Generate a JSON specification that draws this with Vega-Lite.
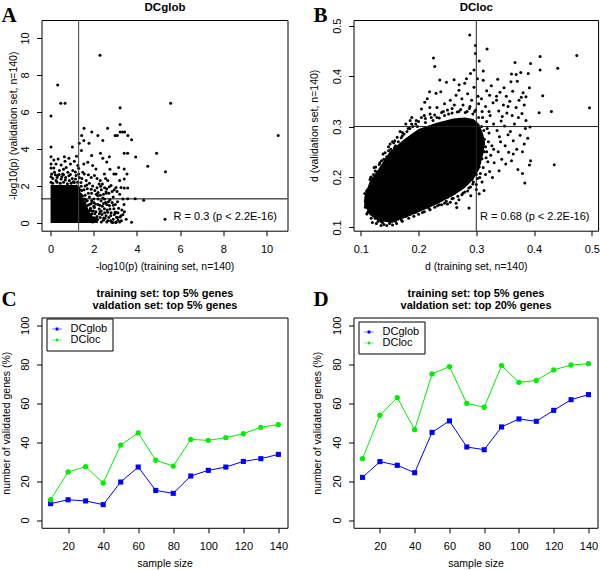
{
"$schema": "https://vega.github.io/schema/vega-lite/v6.json",
"padding": {"left": 0.5, "top": 0, "right": 0, "bottom": 0},
"background": "white",
"columns": 2,
"bounds": "flush",
"spacing": {"row": 86.5, "column": 66},
"resolve": {"scale": {"color": "independent", "shape": "independent"}, "legend": {"color": "independent", "shape": "independent"}},
"config": {
  "font": "Liberation Sans",
  "view": {"stroke": "black", "strokeWidth": 1},
  "axis": {"domain": false, "grid": false, "tickColor": "black", "tickSize": 5, "labelFont": "Liberation Sans", "labelFontSize": 11, "labelColor": "black", "titleFont": "Liberation Sans", "titleFontSize": 10.5, "titleFontWeight": "normal", "titleColor": "black"},
  "axisX": {"labelPadding": 8, "titlePadding": 7},
  "axisY": {"labelAngle": 270, "labelAlign": "center", "labelBaseline": "bottom", "labelPadding": 6},
  "title": {"font": "Liberation Serif", "fontSize": 21, "fontWeight": "bold", "anchor": "start", "frame": "group", "dx": -40, "baseline": "alphabetic", "offset": 0, "color": "black"},
  "legend": {"orient": "none", "legendX": 5, "legendY": 1, "title": null, "strokeColor": "black", "fillColor": "white", "padding": 5, "labelFontSize": 11, "labelOffset": 8, "symbolStrokeWidth": 0, "rowPadding": -6, "labelColor": "black"}
},
"concat": [
{
  "width": 246, "height": 210.7,
  "title": {"text": "A", "dy": 29.4},
  "resolve": {"axis": {"x": "independent"}},
  "layer": [
    {"data": {"values": [{"x":0,"lo":0,"hi":2.05},{"x":1.2,"lo":0,"hi":2.05},{"x":1.35,"lo":0,"hi":1.8},{"x":1.5,"lo":0,"hi":1.3},{"x":1.65,"lo":0,"hi":1.0},{"x":1.8,"lo":0,"hi":0.6},{"x":2.0,"lo":0,"hi":0.3},{"x":2.2,"lo":0,"hi":0.02}]},
     "mark": {"type": "area", "color": "black", "opacity": 1},
     "encoding": {
       "x": {"field": "x", "type": "quantitative", "scale": {"domain": [-0.42, 10.97], "nice": false, "zero": false}, "axis": null},
       "y": {"field": "hi", "type": "quantitative", "scale": {"domain": [-0.42, 10.97], "nice": false, "zero": false}, "axis": {"values": [0,2,4,6,8,10], "title": "-log10(p) (validation set, n=140)", "titlePadding": 0.75}},
       "y2": {"field": "lo"}}},
    {"data": {"values": [
      {"x":2.29,"y":9.06},{"x":0.33,"y":7.46},{"x":0.47,"y":6.47},{"x":0.67,"y":6.47},{"x":0.02,"y":5.78},{"x":3.22,"y":6.23},{"x":5.56,"y":6.47},{"x":3.22,"y":5.32},{"x":1.55,"y":5.12},{"x":2.64,"y":5.12},
      {"x":1.44,"y":4.72},{"x":1.91,"y":4.92},{"x":2.19,"y":4.72},{"x":2.99,"y":4.72},{"x":3.09,"y":4.72},{"x":3.22,"y":4.92},{"x":3.33,"y":4.92},{"x":3.43,"y":4.92},{"x":3.58,"y":4.72},{"x":3.75,"y":4.49},
      {"x":10.54,"y":4.72},{"x":1.33,"y":4.31},{"x":1.43,"y":3.91},{"x":1.78,"y":4.31},{"x":1.01,"y":4.11},{"x":0.02,"y":4.11},{"x":2.31,"y":3.77},{"x":3.41,"y":3.77},{"x":3.57,"y":3.77},{"x":3.94,"y":3.57},
      {"x":4.91,"y":3.77},{"x":4.5,"y":3.06},{"x":5.32,"y":2.77},{"x":5.3,"y":0.2},{"x":3.75,"y":0.04},{"x":4.31,"y":1.22},{"x":3.92,"y":1.31},{"x":3.57,"y":1.31},{"x":3.57,"y":1.89},{"x":3.41,"y":1.89},
      {"x":3.41,"y":2.38},{"x":3.41,"y":2.92},{"x":2.42,"y":4.45},{"x":1.54,"y":4.45},{"x":2.72,"y":3.58},{"x":2.42,"y":3.49},{"x":0.02,"y":3.58},{"x":0.02,"y":3.19},{"x":0.02,"y":2.97},{"x":0.15,"y":2.97},
      {"x":0.25,"y":3.19},{"x":0.64,"y":3.58},{"x":0.67,"y":3.33},{"x":0.49,"y":3.13},{"x":0.92,"y":3.19},{"x":1.1,"y":3.33},{"x":1.26,"y":3.1},{"x":1.54,"y":3.19},{"x":1.72,"y":3.28},{"x":1.95,"y":3.1},
      {"x":2.1,"y":2.92},{"x":2.49,"y":2.65},{"x":2.3,"y":2.29},{"x":2.93,"y":2.65},{"x":3.03,"y":2.65},{"x":3.54,"y":2.65},{"x":3.03,"y":1.92},{"x":3.26,"y":1.92},{"x":2.8,"y":2.02},{"x":2.57,"y":1.69},
      {"x":2.65,"y":2.29},{"x":1.88,"y":2.46},{"x":2.03,"y":2.56},{"x":1.56,"y":2.65},{"x":3.03,"y":0.03},{"x":2.88,"y":0.03},{"x":3.26,"y":0.39},{"x":3.03,"y":0.57},{"x":2.93,"y":0.76},{"x":2.72,"y":0.94},
      {"x":2.57,"y":0.39},{"x":2.46,"y":0.27},{"x":2.26,"y":0.49},{"x":2.34,"y":1.2},{"x":2.18,"y":1.48},{"x":2.49,"y":0.76},{"x":2.03,"y":0.84},{"x":1.88,"y":0.66},{"x":1.72,"y":0.3},{"x":2.1,"y":0.22},
      {"x":1.95,"y":0.12},{"x":2.65,"y":0.12},{"x":0.18,"y":2.74},{"x":0.41,"y":2.83},{"x":0.56,"y":2.65},{"x":0.8,"y":2.74},{"x":1.03,"y":2.83},{"x":1.18,"y":2.56},{"x":1.33,"y":2.46},{"x":1.49,"y":2.74},
      {"x":0.49,"y":2.38},{"x":0.25,"y":2.29},{"x":0.87,"y":2.29},{"x":1.1,"y":2.19},{"x":1.41,"y":2.19},{"x":0.72,"y":3.0},{"x":0.33,"y":2.56},{"x":0.02,"y":2.5},{"x":0.02,"y":2.2},{"x":0.1,"y":2.4},
      {"x":0.6,"y":2.2},{"x":1.0,"y":2.4},{"x":1.25,"y":2.2},{"x":1.2,"y":2.0},{"x":1.35,"y":1.8},{"x":1.3,"y":1.9},{"x":1.45,"y":1.75},{"x":1.6,"y":1.5},{"x":1.7,"y":1.2},{"x":1.8,"y":1.0},
      {"x":1.55,"y":1.3},{"x":1.65,"y":0.9},{"x":1.75,"y":0.6},{"x":1.85,"y":0.4},{"x":2.0,"y":0.9},{"x":2.2,"y":1.0},{"x":2.1,"y":0.6},{"x":2.3,"y":0.3},{"x":2.4,"y":0.9},{"x":2.2,"y":1.3},
      {"x":1.9,"y":1.6},{"x":2.05,"y":1.75},{"x":1.7,"y":1.85},{"x":2.5,"y":0.55},{"x":2.7,"y":0.3},{"x":2.8,"y":0.55},{"x":2.6,"y":1.0},{"x":2.9,"y":0.2},{"x":3.1,"y":0.3},{"x":2.75,"y":1.25},
      {"x":2.45,"y":1.55},{"x":1.95,"y":0.05},{"x":2.35,"y":0.05},{"x":2.6,"y":0.05},{"x":3.2,"y":0.05},{"x":2.0,"y":1.3},{"x":1.9,"y":1.2},{"x":1.6,"y":1.1},{"x":1.5,"y":0.8},{"x":1.55,"y":0.4},
      {"x":1.65,"y":0.15},{"x":1.8,"y":1.4},{"x":2.15,"y":1.9},{"x":2.5,"y":1.3},{"x":1.95,"y":2.0},{"x":1.6,"y":2.0},{"x":2.9,"y":1.4},{"x":3.0,"y":1.0},{"x":2.7,"y":1.6},{"x":2.25,"y":2.1},
      {"x":1.8,"y":2.15},{"x":3.2,"y":1.55},{"x":3.4,"y":1.0},{"x":3.3,"y":0.7},{"x":2.95,"y":1.8},{"x":2.64,"y":0.58},{"x":2.79,"y":0.4},{"x":2.99,"y":0.58},{"x":3.05,"y":0.31},{"x":3.22,"y":0.32},
      {"x":2.84,"y":0.04},{"x":3.02,"y":0.04},{"x":0.1,"y":2.15},{"x":0.3,"y":2.45},{"x":0.45,"y":2.15},{"x":0.7,"y":2.45},{"x":0.95,"y":2.15},{"x":1.15,"y":2.75},{"x":0.85,"y":2.55},{"x":0.6,"y":2.9},
      {"x":0.4,"y":2.62},{"x":1.3,"y":2.65},{"x":1.45,"y":2.4},{"x":1.65,"y":2.3},{"x":1.75,"y":2.6},{"x":2.15,"y":2.4},{"x":2.4,"y":2.1},{"x":2.55,"y":2.4},{"x":2.35,"y":1.8},{"x":2.6,"y":1.85},
      {"x":2.85,"y":1.7},{"x":2.3,"y":1.5},{"x":2.55,"y":1.1},{"x":2.35,"y":0.65},{"x":2.15,"y":0.35},{"x":2.45,"y":0.15},{"x":2.75,"y":0.75},{"x":2.9,"y":0.95},{"x":3.15,"y":0.8},{"x":3.35,"y":0.45},
      {"x":3.5,"y":0.2},{"x":3.35,"y":1.3},{"x":3.1,"y":1.15},{"x":2.0,"y":1.1},{"x":1.75,"y":1.6},{"x":1.85,"y":0.8},{"x":2.05,"y":0.5},{"x":2.25,"y":0.75},{"x":2.2,"y":1.65},{"x":1.55,"y":1.8},
      {"x":0.85,"y":3.5},{"x":0.35,"y":3.45},{"x":1.2,"y":3.6},{"x":1.9,"y":3.65},{"x":2.6,"y":3.3},{"x":3.15,"y":3.0},{"x":2.75,"y":2.9},{"x":3.2,"y":2.3},{"x":1.3,"y":2.95},{"x":0.15,"y":3.4},
      {"x":1.4,"y":1.55},{"x":1.48,"y":1.45},{"x":1.62,"y":1.25},{"x":1.72,"y":0.95},{"x":1.82,"y":0.72},{"x":1.92,"y":0.5},{"x":2.02,"y":0.28},{"x":2.12,"y":0.08},{"x":1.98,"y":0.65},{"x":2.08,"y":1.02},
      {"x":2.28,"y":0.95},{"x":2.38,"y":0.45},{"x":2.52,"y":0.25},{"x":2.62,"y":0.7},{"x":2.68,"y":1.15},{"x":2.85,"y":1.1},{"x":2.95,"y":0.45},{"x":3.12,"y":0.55},{"x":3.28,"y":0.12},{"x":3.42,"y":0.6},
      {"x":2.42,"y":1.35},{"x":2.58,"y":1.6},{"x":2.12,"y":1.55},{"x":1.88,"y":1.82},{"x":2.32,"y":1.98},{"x":2.72,"y":1.95},{"x":3.08,"y":1.7},{"x":1.42,"y":1.98},{"x":1.68,"y":2.05},{"x":2.5,"y":1.9},
      {"x":1.5,"y":0.15},{"x":1.58,"y":0.62},{"x":1.68,"y":0.45},{"x":1.78,"y":0.22},{"x":1.88,"y":1.05},{"x":2.18,"y":0.18},{"x":2.3,"y":0.6},{"x":2.45,"y":1.05},{"x":2.78,"y":0.12},{"x":3.12,"y":0.15},
      {"x":0.05,"y":2.65},{"x":0.22,"y":2.6},{"x":0.52,"y":2.5},{"x":0.68,"y":2.32},{"x":0.78,"y":2.12},{"x":1.05,"y":2.22},{"x":1.15,"y":2.38},{"x":0.92,"y":2.62},{"x":0.3,"y":2.2},{"x":0.6,"y":2.6}
     ]},
     "mark": {"type": "circle", "color": "black", "size": 9, "opacity": 1},
     "encoding": {
       "x": {"field": "x", "type": "quantitative", "scale": {"domain": [-0.42, 10.97], "nice": false, "zero": false}, "axis": {"orient": "bottom", "values": [0,2,4,6,8,10], "title": "-log10(p) (training set, n=140)", "labelPadding": 8, "titlePadding": 7, "labelBaseline": "top"}},
       "y": {"field": "y", "type": "quantitative", "scale": {"domain": [-0.42, 10.97], "nice": false, "zero": false}, "axis": {"values": [0,2,4,6,8,10], "title": "-log10(p) (validation set, n=140)", "titlePadding": 0.75}}}},
    {"data": {"values": [{"v": 1.301}]},
     "mark": {"type": "rule", "color": "#444444", "strokeWidth": 1},
     "encoding": {"x": {"field": "v", "type": "quantitative", "scale": {"domain": [-0.42, 10.97], "nice": false, "zero": false}, "axis": {"orient": "top", "title": "DCglob", "labels": false, "ticks": false, "domain": false, "titleFontWeight": "bold", "titleFontSize": 11.5, "titlePadding": 8}}}},
    {"data": {"values": [{"v": 1.301}]},
     "mark": {"type": "rule", "color": "black", "strokeWidth": 1},
     "encoding": {"y": {"field": "v", "type": "quantitative", "scale": {"domain": [-0.42, 10.97], "nice": false, "zero": false}, "axis": {"values": [0,2,4,6,8,10], "title": "-log10(p) (validation set, n=140)", "titlePadding": 0.75}}}},
    {"data": {"values": [{"label": "R = 0.3 (p < 2.2E-16)"}]},
     "mark": {"type": "text", "align": "right", "baseline": "middle", "fontSize": 11, "color": "black"},
     "encoding": {"x": {"datum": 10.48, "type": "quantitative", "axis": null}, "y": {"datum": 0.34, "type": "quantitative", "axis": {"values": [0,2,4,6,8,10], "title": "-log10(p) (validation set, n=140)", "titlePadding": 0.75}}, "text": {"field": "label"}}}
  ]
},
{
  "width": 244.6, "height": 210.7,
  "title": {"text": "B", "dy": 29.4},
  "resolve": {"axis": {"x": "independent"}},
  "layer": [
    {"data": {"values": [{"x":0.106,"lo":0.145,"hi":0.16},{"x":0.115,"lo":0.125,"hi":0.19},{"x":0.13,"lo":0.113,"hi":0.215},{"x":0.15,"lo":0.11,"hi":0.25},{"x":0.175,"lo":0.118,"hi":0.275},{"x":0.2,"lo":0.13,"hi":0.295},{"x":0.23,"lo":0.145,"hi":0.307},{"x":0.26,"lo":0.163,"hi":0.316},{"x":0.28,"lo":0.178,"hi":0.318},{"x":0.295,"lo":0.195,"hi":0.315},{"x":0.305,"lo":0.215,"hi":0.305},{"x":0.312,"lo":0.245,"hi":0.285},{"x":0.315,"lo":0.265,"hi":0.27}]},
     "mark": {"type": "area", "color": "black", "opacity": 1},
     "encoding": {
       "x": {"field": "x", "type": "quantitative", "scale": {"domain": [0.0874, 0.5109], "nice": false, "zero": false}, "axis": null},
       "y": {"field": "hi", "type": "quantitative", "scale": {"domain": [0.0935, 0.5113], "nice": false, "zero": false}, "axis": {"values": [0.1,0.2,0.3,0.4,0.5], "title": "d (validation set, n=140)", "titlePadding": 11.75}},
       "y2": {"field": "lo"}}},
    {"data": {"values": [
      {"x":0.3187,"y":0.454},{"x":0.2986,"y":0.4605},{"x":0.2986,"y":0.445},{"x":0.296,"y":0.412},{"x":0.367,"y":0.427},{"x":0.394,"y":0.425},{"x":0.4105,"y":0.4387},{"x":0.4105,"y":0.412},{"x":0.441,"y":0.4155},{"x":0.474,"y":0.4407},
      {"x":0.496,"y":0.3375},{"x":0.43,"y":0.33},{"x":0.4088,"y":0.3276},{"x":0.415,"y":0.361},{"x":0.39,"y":0.405},{"x":0.377,"y":0.407},{"x":0.369,"y":0.403},{"x":0.361,"y":0.404},{"x":0.392,"y":0.377},{"x":0.386,"y":0.359},
      {"x":0.378,"y":0.358},{"x":0.386,"y":0.312},{"x":0.393,"y":0.2992},{"x":0.389,"y":0.2766},{"x":0.383,"y":0.2655},{"x":0.394,"y":0.232},{"x":0.392,"y":0.224},{"x":0.435,"y":0.2245},{"x":0.38,"y":0.207},{"x":0.384,"y":0.188},
      {"x":0.364,"y":0.2458},{"x":0.351,"y":0.2258},{"x":0.3395,"y":0.2125},{"x":0.328,"y":0.199},{"x":0.3135,"y":0.1734},{"x":0.305,"y":0.1668},{"x":0.2905,"y":0.163},{"x":0.2887,"y":0.4817},{"x":0.2259,"y":0.436},{"x":0.2281,"y":0.419},
      {"x":0.2368,"y":0.3925},{"x":0.2484,"y":0.3877},{"x":0.2616,"y":0.393},{"x":0.2703,"y":0.383},{"x":0.28,"y":0.3857},{"x":0.219,"y":0.369},{"x":0.2304,"y":0.366},{"x":0.2385,"y":0.369},{"x":0.2108,"y":0.348},{"x":0.2195,"y":0.338},
      {"x":0.1883,"y":0.318},{"x":0.1854,"y":0.312},{"x":0.1589,"y":0.272},{"x":0.1507,"y":0.2655},{"x":0.1386,"y":0.2456},{"x":0.1231,"y":0.219},{"x":0.1173,"y":0.199},{"x":0.107,"y":0.1675},{"x":0.1087,"y":0.143},{"x":0.1104,"y":0.1265},
      {"x":0.12,"y":0.11},{"x":0.1376,"y":0.11},{"x":0.1507,"y":0.11},{"x":0.168,"y":0.1198},{"x":0.1866,"y":0.1265},{"x":0.2068,"y":0.1298},{"x":0.2328,"y":0.143},{"x":0.2501,"y":0.1464},{"x":0.2662,"y":0.1397},{"x":0.2875,"y":0.1385},
      {"x":0.312,"y":0.392},{"x":0.318,"y":0.371},{"x":0.309,"y":0.355},{"x":0.316,"y":0.34},{"x":0.311,"y":0.318},{"x":0.319,"y":0.296},{"x":0.314,"y":0.275},{"x":0.308,"y":0.258},{"x":0.317,"y":0.238},{"x":0.312,"y":0.219},
      {"x":0.306,"y":0.199},{"x":0.326,"y":0.381},{"x":0.323,"y":0.362},{"x":0.329,"y":0.347},{"x":0.324,"y":0.322},{"x":0.33,"y":0.305},{"x":0.322,"y":0.287},{"x":0.327,"y":0.262},{"x":0.325,"y":0.243},{"x":0.331,"y":0.228},
      {"x":0.323,"y":0.211},{"x":0.337,"y":0.394},{"x":0.341,"y":0.368},{"x":0.335,"y":0.352},{"x":0.339,"y":0.331},{"x":0.343,"y":0.311},{"x":0.336,"y":0.292},{"x":0.342,"y":0.27},{"x":0.338,"y":0.25},{"x":0.344,"y":0.235},
      {"x":0.348,"y":0.377},{"x":0.352,"y":0.36},{"x":0.347,"y":0.343},{"x":0.353,"y":0.327},{"x":0.349,"y":0.301},{"x":0.355,"y":0.284},{"x":0.35,"y":0.262},{"x":0.356,"y":0.249},{"x":0.36,"y":0.389},{"x":0.363,"y":0.37},
      {"x":0.358,"y":0.35},{"x":0.362,"y":0.322},{"x":0.366,"y":0.305},{"x":0.359,"y":0.29},{"x":0.364,"y":0.272},{"x":0.361,"y":0.232},{"x":0.371,"y":0.39},{"x":0.374,"y":0.352},{"x":0.369,"y":0.338},{"x":0.373,"y":0.318},
      {"x":0.376,"y":0.283},{"x":0.37,"y":0.255},{"x":0.372,"y":0.215},{"x":0.381,"y":0.367},{"x":0.383,"y":0.343},{"x":0.379,"y":0.326},{"x":0.385,"y":0.296},{"x":0.38,"y":0.25},{"x":0.285,"y":0.365},{"x":0.292,"y":0.352},
      {"x":0.296,"y":0.378},{"x":0.302,"y":0.395},{"x":0.289,"y":0.34},{"x":0.275,"y":0.355},{"x":0.265,"y":0.362},{"x":0.255,"y":0.352},{"x":0.262,"y":0.343},{"x":0.245,"y":0.345},{"x":0.25,"y":0.333},{"x":0.24,"y":0.328},
      {"x":0.232,"y":0.338},{"x":0.22,"y":0.325},{"x":0.21,"y":0.322},{"x":0.2,"y":0.31},{"x":0.195,"y":0.305},{"x":0.205,"y":0.335},{"x":0.215,"y":0.355},{"x":0.27,"y":0.372},{"x":0.283,"y":0.395},{"x":0.29,"y":0.405},
      {"x":0.305,"y":0.43},{"x":0.312,"y":0.41},{"x":0.29,"y":0.18},{"x":0.3,"y":0.185},{"x":0.295,"y":0.19},{"x":0.285,"y":0.172},{"x":0.275,"y":0.165},{"x":0.27,"y":0.155},{"x":0.26,"y":0.158},{"x":0.255,"y":0.15},
      {"x":0.245,"y":0.148},{"x":0.24,"y":0.145},{"x":0.28,"y":0.17},{"x":0.31,"y":0.19},{"x":0.3,"y":0.175},{"x":0.265,"y":0.148},{"x":0.22,"y":0.135},{"x":0.21,"y":0.14},{"x":0.195,"y":0.13},{"x":0.18,"y":0.125},
      {"x":0.17,"y":0.115},{"x":0.16,"y":0.112},{"x":0.15,"y":0.108},{"x":0.14,"y":0.106},{"x":0.13,"y":0.112},{"x":0.125,"y":0.118},{"x":0.115,"y":0.132},{"x":0.11,"y":0.16},{"x":0.112,"y":0.175},{"x":0.118,"y":0.185},
      {"x":0.122,"y":0.205},{"x":0.128,"y":0.21},{"x":0.132,"y":0.225},{"x":0.14,"y":0.235},{"x":0.145,"y":0.24},{"x":0.152,"y":0.255},{"x":0.16,"y":0.262},{"x":0.165,"y":0.27},{"x":0.17,"y":0.278},{"x":0.175,"y":0.285},
      {"x":0.18,"y":0.29},{"x":0.19,"y":0.3},{"x":0.168,"y":0.29},{"x":0.178,"y":0.305},{"x":0.155,"y":0.27},
      {"x":0.318,"y":0.25},{"x":0.32,"y":0.23},{"x":0.316,"y":0.205},{"x":0.321,"y":0.27},{"x":0.318,"y":0.31},{"x":0.322,"y":0.33},{"x":0.31,"y":0.33},{"x":0.304,"y":0.345},{"x":0.297,"y":0.33},{"x":0.284,"y":0.33},
      {"x":0.27,"y":0.33},{"x":0.258,"y":0.327},{"x":0.245,"y":0.322},{"x":0.232,"y":0.318},{"x":0.225,"y":0.312},{"x":0.212,"y":0.308},{"x":0.303,"y":0.36},{"x":0.277,"y":0.343},{"x":0.305,"y":0.22},{"x":0.3,"y":0.205},
      {"x":0.292,"y":0.195},{"x":0.282,"y":0.185},{"x":0.272,"y":0.176},{"x":0.262,"y":0.168},{"x":0.25,"y":0.16},{"x":0.238,"y":0.155},{"x":0.226,"y":0.148},{"x":0.214,"y":0.143},{"x":0.202,"y":0.137},{"x":0.19,"y":0.133},
      {"x":0.178,"y":0.122},{"x":0.164,"y":0.116},{"x":0.155,"y":0.112},{"x":0.135,"y":0.112},{"x":0.12,"y":0.125},{"x":0.112,"y":0.14},{"x":0.108,"y":0.152},{"x":0.116,"y":0.195},{"x":0.126,"y":0.22},{"x":0.136,"y":0.232},
      {"x":0.148,"y":0.252},{"x":0.158,"y":0.258},{"x":0.172,"y":0.282},{"x":0.185,"y":0.296},{"x":0.198,"y":0.3},{"x":0.33,"y":0.255},{"x":0.34,"y":0.28},{"x":0.345,"y":0.32},{"x":0.355,"y":0.34},{"x":0.335,"y":0.36},
      {"x":0.11,"y":0.172},{"x":0.118,"y":0.2},{"x":0.125,"y":0.212},{"x":0.133,"y":0.228},{"x":0.142,"y":0.248},{"x":0.148,"y":0.26},{"x":0.157,"y":0.268},{"x":0.163,"y":0.279},{"x":0.172,"y":0.288},{"x":0.182,"y":0.296},
      {"x":0.188,"y":0.305},{"x":0.196,"y":0.312},{"x":0.205,"y":0.318},{"x":0.212,"y":0.316},{"x":0.222,"y":0.318},{"x":0.228,"y":0.323},{"x":0.236,"y":0.317},{"x":0.243,"y":0.33},{"x":0.252,"y":0.325},{"x":0.258,"y":0.336},
      {"x":0.267,"y":0.329},{"x":0.273,"y":0.334},{"x":0.281,"y":0.328},{"x":0.288,"y":0.336},{"x":0.294,"y":0.325},{"x":0.299,"y":0.333},{"x":0.304,"y":0.318},{"x":0.309,"y":0.3},{"x":0.313,"y":0.292},{"x":0.316,"y":0.26},
      {"x":0.314,"y":0.25},{"x":0.31,"y":0.236},{"x":0.306,"y":0.228},{"x":0.108,"y":0.14},{"x":0.112,"y":0.13},{"x":0.118,"y":0.118},{"x":0.127,"y":0.108},{"x":0.135,"y":0.104},{"x":0.145,"y":0.104},{"x":0.155,"y":0.105},
      {"x":0.162,"y":0.108},{"x":0.172,"y":0.112},{"x":0.183,"y":0.118},{"x":0.192,"y":0.122},{"x":0.2,"y":0.126},{"x":0.21,"y":0.131},{"x":0.218,"y":0.138},{"x":0.228,"y":0.14},{"x":0.236,"y":0.145},{"x":0.248,"y":0.152},
      {"x":0.258,"y":0.157},{"x":0.268,"y":0.162},{"x":0.277,"y":0.168},{"x":0.287,"y":0.178},{"x":0.294,"y":0.186},{"x":0.302,"y":0.197},{"x":0.307,"y":0.207}
     ]},
     "mark": {"type": "circle", "color": "black", "size": 9, "opacity": 1},
     "encoding": {
       "x": {"field": "x", "type": "quantitative", "scale": {"domain": [0.0874, 0.5109], "nice": false, "zero": false}, "axis": {"orient": "bottom", "values": [0.1,0.2,0.3,0.4,0.5], "title": "d (training set, n=140)", "labelPadding": 8, "titlePadding": 7, "labelBaseline": "top"}},
       "y": {"field": "y", "type": "quantitative", "scale": {"domain": [0.0935, 0.5113], "nice": false, "zero": false}, "axis": {"values": [0.1,0.2,0.3,0.4,0.5], "title": "d (validation set, n=140)", "titlePadding": 11.75}}}},
    {"data": {"values": [{"v": 0.3}]},
     "mark": {"type": "rule", "color": "#222222", "strokeWidth": 1},
     "encoding": {"x": {"field": "v", "type": "quantitative", "scale": {"domain": [0.0874, 0.5109], "nice": false, "zero": false}, "axis": {"orient": "top", "title": "DCloc", "labels": false, "ticks": false, "domain": false, "titleFontWeight": "bold", "titleFontSize": 11.5, "titlePadding": 8}}}},
    {"data": {"values": [{"v": 0.3}]},
     "mark": {"type": "rule", "color": "#222222", "strokeWidth": 1},
     "encoding": {"y": {"field": "v", "type": "quantitative", "scale": {"domain": [0.0935, 0.5113], "nice": false, "zero": false}, "axis": {"values": [0.1,0.2,0.3,0.4,0.5], "title": "d (validation set, n=140)", "titlePadding": 11.75}}}},
    {"data": {"values": [{"label": "R = 0.68 (p < 2.2E-16)"}]},
     "mark": {"type": "text", "align": "right", "baseline": "middle", "fontSize": 11, "color": "black"},
     "encoding": {"x": {"datum": 0.496, "type": "quantitative", "axis": null}, "y": {"datum": 0.1212, "type": "quantitative", "axis": {"values": [0.1,0.2,0.3,0.4,0.5], "title": "d (validation set, n=140)", "titlePadding": 11.75}}, "text": {"field": "label"}}}
  ]
},
{
  "width": 246, "height": 210.3,
  "title": {"text": "C", "dy": 26.5},
  "data": {"values": [
    {"n":10,"method":"DCglob","pct":8.4},{"n":20,"method":"DCglob","pct":10.4},{"n":30,"method":"DCglob","pct":9.8},{"n":40,"method":"DCglob","pct":7.9},{"n":50,"method":"DCglob","pct":19.5},{"n":60,"method":"DCglob","pct":27.2},{"n":70,"method":"DCglob","pct":15.2},{"n":80,"method":"DCglob","pct":13.7},{"n":90,"method":"DCglob","pct":22.6},{"n":100,"method":"DCglob","pct":25.5},{"n":110,"method":"DCglob","pct":27.2},{"n":120,"method":"DCglob","pct":30.1},{"n":130,"method":"DCglob","pct":31.5},{"n":140,"method":"DCglob","pct":33.7},
    {"n":10,"method":"DCloc","pct":10.4},{"n":20,"method":"DCloc","pct":24.7},{"n":30,"method":"DCloc","pct":27.4},{"n":40,"method":"DCloc","pct":19.0},{"n":50,"method":"DCloc","pct":38.5},{"n":60,"method":"DCloc","pct":44.7},{"n":70,"method":"DCloc","pct":30.7},{"n":80,"method":"DCloc","pct":27.7},{"n":90,"method":"DCloc","pct":41.4},{"n":100,"method":"DCloc","pct":40.9},{"n":110,"method":"DCloc","pct":42.3},{"n":120,"method":"DCloc","pct":44.3},{"n":130,"method":"DCloc","pct":47.6},{"n":140,"method":"DCloc","pct":49.0}
  ]},
  "resolve": {"axis": {"x": "independent"}},
  "layer": [
    {"data": {"values": []},
     "mark": {"type": "point", "filled": true, "size": 324, "opacity": 1},
     "encoding": {
       "shape": {"field": "method", "type": "nominal", "scale": {"domain": ["DCglob","DCloc"], "range": ["M-1,-0.07H1V0.07H-1Z M-0.28,-0.28H0.28V0.28H-0.28Z", "M-1,-0.07H1V0.07H-1Z M-0.3,0A0.3,0.3 0 1,1 0.3,0A0.3,0.3 0 1,1 -0.3,0Z"]}},
       "color": {"field": "method", "type": "nominal", "scale": {"domain": ["DCglob","DCloc"], "range": ["#0000FF","#00EE00"]}}}},
    {"mark": {"type": "line", "strokeWidth": 1},
     "encoding": {
       "x": {"field": "n", "type": "quantitative", "scale": {"domain": [4.8, 145.2], "nice": false, "zero": false}, "axis": {"orient": "bottom", "values": [20,40,60,80,100,120,140], "title": "sample size", "labelPadding": 8, "titlePadding": 7, "labelBaseline": "top"}},
       "y": {"field": "pct", "type": "quantitative", "scale": {"domain": [-4, 104], "nice": false, "zero": false}, "axis": {"values": [0,20,40,60,80,100], "title": "number of validated genes (%)", "titlePadding": 7.75}},
       "color": {"field": "method", "type": "nominal", "scale": {"domain": ["DCglob","DCloc"], "range": ["#0000FF","#00EE00"]}}}},
    {"transform": [{"filter": "datum.method == 'DCglob'"}],
     "mark": {"type": "square", "size": 26, "opacity": 1},
     "encoding": {
       "x": {"field": "n", "type": "quantitative", "scale": {"domain": [4.8, 145.2], "nice": false, "zero": false}, "axis": {"orient": "top", "title": ["training set: top 5% genes", "valdation set: top 5% genes"], "labels": false, "ticks": false, "domain": false, "titleFontWeight": "bold", "titleFontSize": 11, "titleLineHeight": 12, "titlePadding": 7}},
       "y": {"field": "pct", "type": "quantitative", "scale": {"domain": [-4, 104], "nice": false, "zero": false}, "axis": {"values": [0,20,40,60,80,100], "title": "number of validated genes (%)", "titlePadding": 7.75}},
       "color": {"field": "method", "type": "nominal", "scale": {"domain": ["DCglob","DCloc"], "range": ["#0000FF","#00EE00"]}}}},
    {"transform": [{"filter": "datum.method == 'DCloc'"}],
     "mark": {"type": "circle", "size": 28, "opacity": 1},
     "encoding": {
       "x": {"field": "n", "type": "quantitative", "scale": {"domain": [4.8, 145.2], "nice": false, "zero": false}, "axis": null},
       "y": {"field": "pct", "type": "quantitative", "scale": {"domain": [-4, 104], "nice": false, "zero": false}, "axis": {"values": [0,20,40,60,80,100], "title": "number of validated genes (%)", "titlePadding": 7.75}},
       "color": {"field": "method", "type": "nominal", "scale": {"domain": ["DCglob","DCloc"], "range": ["#0000FF","#00EE00"]}}}}
  ]
},
{
  "width": 244, "height": 210.3,
  "title": {"text": "D", "dy": 26.5},
  "data": {"values": [
    {"n":10,"method":"DCglob","pct":21.9},{"n":20,"method":"DCglob","pct":30.0},{"n":30,"method":"DCglob","pct":28.1},{"n":40,"method":"DCglob","pct":24.3},{"n":50,"method":"DCglob","pct":45.0},{"n":60,"method":"DCglob","pct":50.9},{"n":70,"method":"DCglob","pct":37.5},{"n":80,"method":"DCglob","pct":36.1},{"n":90,"method":"DCglob","pct":47.8},{"n":100,"method":"DCglob","pct":51.9},{"n":110,"method":"DCglob","pct":50.7},{"n":120,"method":"DCglob","pct":56.3},{"n":130,"method":"DCglob","pct":61.8},{"n":140,"method":"DCglob","pct":64.4},
    {"n":10,"method":"DCloc","pct":31.5},{"n":20,"method":"DCloc","pct":53.8},{"n":30,"method":"DCloc","pct":62.8},{"n":40,"method":"DCloc","pct":46.4},{"n":50,"method":"DCloc","pct":75.0},{"n":60,"method":"DCloc","pct":78.8},{"n":70,"method":"DCloc","pct":59.9},{"n":80,"method":"DCloc","pct":57.9},{"n":90,"method":"DCloc","pct":79.3},{"n":100,"method":"DCloc","pct":70.7},{"n":110,"method":"DCloc","pct":71.7},{"n":120,"method":"DCloc","pct":77.1},{"n":130,"method":"DCloc","pct":79.6},{"n":140,"method":"DCloc","pct":80.3}
  ]},
  "resolve": {"axis": {"x": "independent"}},
  "layer": [
    {"data": {"values": []},
     "mark": {"type": "point", "filled": true, "size": 324, "opacity": 1},
     "encoding": {
       "shape": {"field": "method", "type": "nominal", "scale": {"domain": ["DCglob","DCloc"], "range": ["M-1,-0.07H1V0.07H-1Z M-0.28,-0.28H0.28V0.28H-0.28Z", "M-1,-0.07H1V0.07H-1Z M-0.3,0A0.3,0.3 0 1,1 0.3,0A0.3,0.3 0 1,1 -0.3,0Z"]}, "legend": {"legendY": 4}},
       "color": {"field": "method", "type": "nominal", "scale": {"domain": ["DCglob","DCloc"], "range": ["#0000FF","#00EE00"]}, "legend": {"legendY": 4}}}},
    {"mark": {"type": "line", "strokeWidth": 1},
     "encoding": {
       "x": {"field": "n", "type": "quantitative", "scale": {"domain": [4.8, 145.2], "nice": false, "zero": false}, "axis": {"orient": "bottom", "values": [20,40,60,80,100,120,140], "title": "sample size", "labelPadding": 8, "titlePadding": 7, "labelBaseline": "top"}},
       "y": {"field": "pct", "type": "quantitative", "scale": {"domain": [-4, 104], "nice": false, "zero": false}, "axis": {"values": [0,20,40,60,80,100], "title": "number of validated genes (%)", "titlePadding": 9.15}},
       "color": {"field": "method", "type": "nominal", "scale": {"domain": ["DCglob","DCloc"], "range": ["#0000FF","#00EE00"]}, "legend": {"legendY": 4}}}},
    {"transform": [{"filter": "datum.method == 'DCglob'"}],
     "mark": {"type": "square", "size": 26, "opacity": 1},
     "encoding": {
       "x": {"field": "n", "type": "quantitative", "scale": {"domain": [4.8, 145.2], "nice": false, "zero": false}, "axis": {"orient": "top", "title": ["training set: top 5% genes", "valdation set: top 20% genes"], "labels": false, "ticks": false, "domain": false, "titleFontWeight": "bold", "titleFontSize": 11, "titleLineHeight": 12, "titlePadding": 7}},
       "y": {"field": "pct", "type": "quantitative", "scale": {"domain": [-4, 104], "nice": false, "zero": false}, "axis": {"values": [0,20,40,60,80,100], "title": "number of validated genes (%)", "titlePadding": 9.15}},
       "color": {"field": "method", "type": "nominal", "scale": {"domain": ["DCglob","DCloc"], "range": ["#0000FF","#00EE00"]}, "legend": {"legendY": 4}}}},
    {"transform": [{"filter": "datum.method == 'DCloc'"}],
     "mark": {"type": "circle", "size": 28, "opacity": 1},
     "encoding": {
       "x": {"field": "n", "type": "quantitative", "scale": {"domain": [4.8, 145.2], "nice": false, "zero": false}, "axis": null},
       "y": {"field": "pct", "type": "quantitative", "scale": {"domain": [-4, 104], "nice": false, "zero": false}, "axis": {"values": [0,20,40,60,80,100], "title": "number of validated genes (%)", "titlePadding": 9.15}},
       "color": {"field": "method", "type": "nominal", "scale": {"domain": ["DCglob","DCloc"], "range": ["#0000FF","#00EE00"]}, "legend": {"legendY": 4}}}}
  ]
}
]
}
